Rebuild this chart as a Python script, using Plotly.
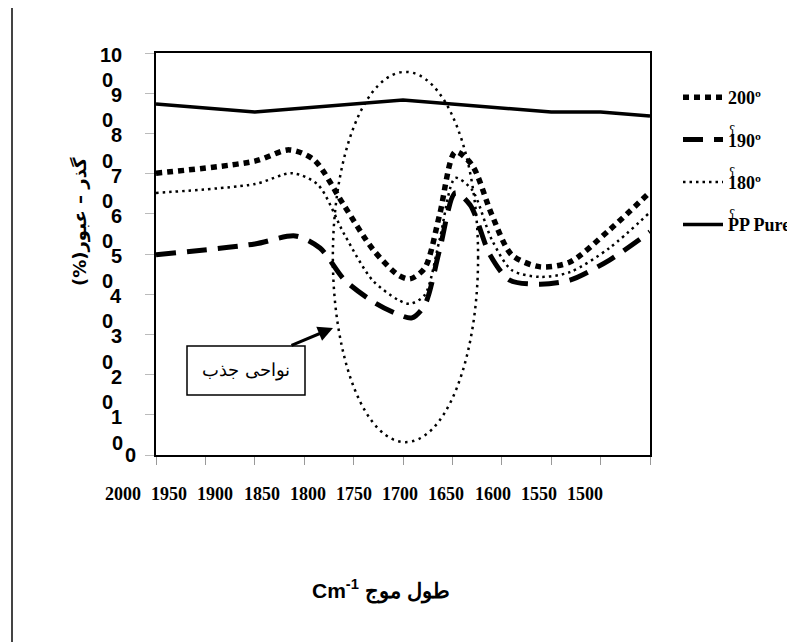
import plotly.graph_objects as go

# ---------------- data ----------------
wn_pure = [2000, 1900, 1750, 1600, 1550, 1500]
tr_pure = [87.3, 85.3, 88.3, 85.3, 85.3, 84.3]

wn_200 = [2000, 1900, 1865, 1840, 1810, 1780, 1755, 1743, 1728, 1713, 1697, 1680, 1660, 1640, 1611, 1581, 1541, 1500]
tr_200 = [70.1, 73.1, 75.9, 73.4, 62.2, 51.0, 44.8, 43.8, 46.5, 59.7, 75.4, 72.1, 59.7, 49.8, 46.8, 48.0, 56.0, 65.4]

wn_190 = [2000, 1900, 1859, 1834, 1809, 1778, 1753, 1741, 1728, 1713, 1697, 1682, 1662, 1642, 1611, 1581, 1541, 1500]
tr_190 = [49.8, 52.5, 54.5, 51.5, 43.5, 37.8, 34.8, 34.1, 37.3, 51.0, 65.2, 62.2, 49.8, 43.5, 42.5, 43.5, 48.5, 55.5]

wn_180 = [2000, 1900, 1862, 1836, 1809, 1781, 1755, 1743, 1728, 1713, 1697, 1680, 1660, 1640, 1611, 1581, 1541, 1500]
tr_180 = [65.2, 67.4, 70.1, 67.2, 54.7, 43.5, 38.6, 37.6, 39.8, 53.5, 68.9, 65.9, 53.5, 46.0, 44.3, 45.5, 51.5, 60.4]

x_tick_labels = ["2000", "1950", "1900", "1850", "1800", "1750", "1700", "1650", "1600", "1550", "1500"]
x_tick_vals = [2000, 1950, 1900, 1850, 1800, 1750, 1700, 1650, 1600, 1550, 1500]
y_tick_vals = [0, 10, 20, 30, 40, 50, 60, 70, 80, 90, 100]
y_digit_labels = ["0", "1", "2", "3", "4", "5", "6", "7", "8", "9", "10"]

legend_names = ["200º", "190º", "180º", "PP Pure"]
region_label = "نواحی جذب"
y_title = "(%)گذر – عبور"
x_title = "Cm<sup>-1</sup> طول موج"

# ---------------- layout geometry ----------------
OFF = 8  # page body margin of the html page
W, H = 795, 642
L, R, T, B = 156 - OFF, 145 + OFF, 53 - OFF, 187 + OFF
PW = W - L - R
PH = H - T - B


def px_x(px):
    return (px - OFF - L) / PW


def px_y(py):
    return (H - B - (py - OFF)) / PH


fig = go.Figure()

fig.add_trace(go.Scatter(
    x=wn_200, y=tr_200, mode="lines", name=legend_names[0], legendgroup="a",
    line=dict(color="black", width=5.5, dash="6px,5px", shape="spline", smoothing=0.8)))
fig.add_trace(go.Scatter(
    x=wn_190, y=tr_190, mode="lines", name=legend_names[1], legendgroup="b",
    line=dict(color="black", width=5, dash="20px,11px", shape="spline", smoothing=0.8)))
fig.add_trace(go.Scatter(
    x=wn_180, y=tr_180, mode="lines", name=legend_names[2], legendgroup="c",
    line=dict(color="black", width=2.5, dash="2.5px,4px", shape="spline", smoothing=0.8)))
fig.add_trace(go.Scatter(
    x=wn_pure, y=tr_pure, mode="lines", name=legend_names[3], legendgroup="d",
    line=dict(color="black", width=3.5)))

annotations = []
tick_font = dict(family="Liberation Sans", size=20, color="black", weight="bold")

# y tick labels (overlapping digits as in the reference)
for v, d in zip(y_tick_vals, y_digit_labels):
    if v == 0:
        continue
    annotations.append(dict(
        x=px_x(124), xref="paper", y=v, yref="y", yshift=-2,
        text=d, showarrow=False, xanchor="right", yanchor="middle", font=tick_font))
for v in y_tick_vals[1:-1]:
    annotations.append(dict(
        x=px_x(107), xref="paper", y=v, yref="y", yshift=13,
        text="0", showarrow=False, xanchor="center", yanchor="middle", font=tick_font))
annotations.append(dict(
    x=px_x(117), xref="paper", y=0, yref="y", yshift=12,
    text="0", showarrow=False, xanchor="center", yanchor="middle", font=tick_font))
annotations.append(dict(
    x=px_x(130), xref="paper", y=0, yref="y", yshift=0,
    text="0", showarrow=False, xanchor="center", yanchor="middle", font=tick_font))

# x tick labels (offset from the axis ticks as in the reference)
for i, lab in enumerate(x_tick_labels):
    annotations.append(dict(
        x=px_x(123 + 46.2 * i), xref="paper", y=px_y(494), yref="paper",
        text=lab, showarrow=False, xanchor="center", yanchor="middle",
        font=dict(family="Liberation Serif", size=18, color="black", weight="bold")))

# axis titles
annotations.append(dict(
    x=px_x(80), xref="paper", y=px_y(222), yref="paper", textangle=-90,
    text=y_title, showarrow=False, xanchor="center", yanchor="middle",
    font=dict(family="DejaVu Sans", size=18, color="black", weight="bold")))
annotations.append(dict(
    x=px_x(381), xref="paper", y=px_y(590), yref="paper",
    text=x_title, showarrow=False, xanchor="center", yanchor="middle",
    font=dict(family="Liberation Sans", size=21, color="black", weight="bold")))

# region box label and arrow
annotations.append(dict(
    x=px_x(246), xref="paper", y=px_y(370), yref="paper",
    text=region_label, showarrow=False, xanchor="center", yanchor="middle",
    font=dict(family="DejaVu Serif", size=18, color="black")))
annotations.append(dict(
    x=px_x(333), xref="paper", y=px_y(328), yref="paper",
    text="", showarrow=True, ax=-43, ay=18, axref="pixel", ayref="pixel",
    arrowhead=2, arrowsize=1, arrowwidth=3, arrowcolor="black"))

# odd glyphs above legend entries
for py in [131, 173, 215]:
    annotations.append(dict(
        x=px_x(732), xref="paper", y=px_y(py), yref="paper",
        text="ʕ", showarrow=False, xanchor="center", yanchor="middle",
        font=dict(family="DejaVu Serif", size=12, color="black")))

shapes = [
    # ellipse around absorption region
    dict(type="circle", xref="x", yref="y", x0=1821, x1=1674, y0=3.2, y1=95.3,
         line=dict(color="black", width=2.5, dash="2.5px,4.5px")),
    # label box
    dict(type="rect", xref="paper", yref="paper",
         x0=px_x(187), x1=px_x(305), y0=px_y(395), y1=px_y(346),
         line=dict(color="black", width=1.5), fillcolor="white"),
    # vertical page line at the far left
    dict(type="line", xref="paper", yref="paper",
         x0=px_x(12), x1=px_x(12), y0=px_y(8), y1=px_y(650),
         line=dict(color="#444444", width=2)),
]

fig.update_layout(
    width=W, height=H, autosize=False,
    margin=dict(l=L, r=R, t=T, b=B, pad=0, autoexpand=False),
    paper_bgcolor="white", plot_bgcolor="white",
    showlegend=True,
    legend=dict(x=px_x(678), xanchor="left", y=px_y(79), yanchor="top",
                font=dict(family="Liberation Serif", size=18, color="black", weight="bold"),
                tracegroupgap=16, bgcolor="rgba(0,0,0,0)", itemwidth=40),
    annotations=annotations,
    shapes=shapes,
)

fig.update_xaxes(
    range=[2000, 1500], tickvals=x_tick_vals, showticklabels=False,
    ticks="outside", ticklen=8, tickcolor="#999999", tickwidth=1,
    showline=True, linecolor="black", linewidth=2, mirror=True,
    showgrid=False, zeroline=False)
fig.update_yaxes(
    range=[0, 100], tickvals=y_tick_vals, showticklabels=False,
    ticks="outside", ticklen=9, tickcolor="#bbbbbb", tickwidth=1,
    showline=True, linecolor="black", linewidth=2, mirror=True,
    showgrid=False, zeroline=False)

fig.write_html("out.html")
